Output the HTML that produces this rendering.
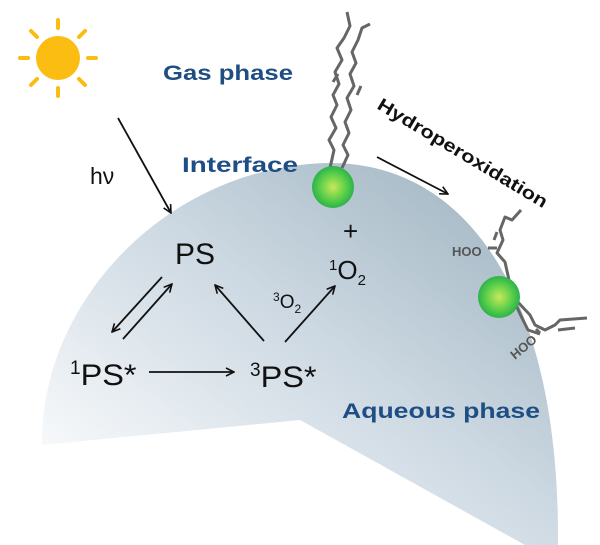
<!DOCTYPE html>
<html><head><meta charset="utf-8"><style>
body{margin:0;background:#fff;}
svg{display:block;font-family:"Liberation Sans","DejaVu Sans",sans-serif;}
</style></head><body>
<svg width="600" height="545" viewBox="0 0 600 545" xmlns="http://www.w3.org/2000/svg">
<defs>
<linearGradient id="bg" x1="1" y1="0.1" x2="0.1" y2="1">
<stop offset="0" stop-color="#9fb4c0"/>
<stop offset="0.45" stop-color="#ccd8e2"/>
<stop offset="1" stop-color="#ffffff"/>
</linearGradient>
<radialGradient id="ball" cx="0.5" cy="0.5" r="0.5">
<stop offset="0" stop-color="#c8e85a"/>
<stop offset="0.6" stop-color="#5fd04a"/>
<stop offset="1" stop-color="#2bb34a"/>
</radialGradient>
<marker id="ah" markerWidth="10" markerHeight="10" refX="9" refY="5" orient="auto" markerUnits="userSpaceOnUse">
<path d="M1,1 L9,5 L1,9" fill="none" stroke="#111" stroke-width="1.6"/>
</marker>
</defs>
<path d="M42,445 C40,300 170,165 330,163 C470,163 560,300 558,545 L525,545 L300,420 Z" fill="url(#bg)"/>
<circle cx="58" cy="58" r="22" fill="#fbbd12"/>
<g stroke="#fbbd12" stroke-width="4" stroke-linecap="round">
<line x1="58" y1="20" x2="58" y2="28"/><line x1="58" y1="88" x2="58" y2="96"/>
<line x1="20" y1="58" x2="28" y2="58"/><line x1="88" y1="58" x2="96" y2="58"/>
<line x1="31" y1="31" x2="37" y2="37"/><line x1="79" y1="79" x2="85" y2="85"/>
<line x1="85" y1="31" x2="79" y2="37"/><line x1="31" y1="85" x2="37" y2="79"/>
</g>
<g fill="#1f4e84" font-weight="bold" font-size="21">
<text x="163" y="80" textLength="130" lengthAdjust="spacingAndGlyphs">Gas phase</text>
<text x="182" y="172" textLength="116" lengthAdjust="spacingAndGlyphs">Interface</text>
<text x="342" y="418" textLength="198" lengthAdjust="spacingAndGlyphs">Aqueous phase</text>
</g>
<text x="90" y="184" font-size="23" fill="#111">hν</text>
<g fill="#111" font-size="30">
<text x="175" y="264" textLength="40" lengthAdjust="spacingAndGlyphs">PS</text>
<text x="70" y="385"><tspan font-size="19" dy="-11">1</tspan><tspan dy="11" textLength="56" lengthAdjust="spacingAndGlyphs">PS*</tspan></text>
<text x="250" y="387"><tspan font-size="19" dy="-11">3</tspan><tspan dy="11" textLength="56" lengthAdjust="spacingAndGlyphs">PS*</tspan></text>
</g>
<text x="273" y="308" font-size="19" fill="#111"><tspan font-size="12" dy="-7">3</tspan><tspan dy="7">O</tspan><tspan font-size="12" dy="5">2</tspan></text>
<text x="343" y="240" font-size="26" fill="#111">+</text>
<text x="329" y="279" font-size="26" fill="#111"><tspan font-size="15" dy="-9">1</tspan><tspan dy="9">O</tspan><tspan font-size="15" dy="6">2</tspan></text>
<g stroke="#111" stroke-width="1.8" fill="none" marker-end="url(#ah)">
<line x1="118" y1="118" x2="171" y2="213"/>
<line x1="162" y1="277" x2="112" y2="332"/>
<line x1="123" y1="339" x2="172" y2="284"/>
<line x1="264" y1="341" x2="215" y2="285"/>
<line x1="285" y1="342" x2="335" y2="286"/>
<line x1="149" y1="372" x2="234" y2="372"/>
<line x1="377" y1="157" x2="448" y2="194"/>
</g>
<text transform="translate(376,108) rotate(31)" font-size="18" font-weight="bold" fill="#111" textLength="195" lengthAdjust="spacingAndGlyphs">Hydroperoxidation</text>
<g stroke="#666" stroke-width="3" fill="none" stroke-linejoin="round">
<polyline points="330,168 334,150 329,140 336,128 331,117 337,105 333,95 339,84 335,72 342,60 337,48 344,38 350,26 347,12"/>
<polyline points="342,168 348,155 343,145 349,133 345,122 351,110 347,98 354,86 350,74 356,63 352,52 358,40 362,28 370,24"/>
<line x1="333" y1="82" x2="338" y2="74"/>
<line x1="357" y1="95" x2="361" y2="86"/>
<polyline points="521,210 512,220 505,217 500,230 503,240 497,253 505,262 509,280 516,300 530,315 535,325 545,330 555,325 560,320 587,318"/>
<polyline points="503,292 516,305 522,318 528,330 540,334"/>
<line x1="497" y1="232" x2="494" y2="240"/>
<line x1="558" y1="330" x2="575" y2="328"/>
<line x1="488" y1="248" x2="497" y2="248"/>
<line x1="536" y1="329" x2="540" y2="333"/>
</g>
<text x="452" y="256" font-size="13" font-weight="bold" fill="#555">HOO</text>
<text transform="translate(515,360) rotate(-40)" font-size="13" font-weight="bold" fill="#555">HOO</text>
<circle cx="333" cy="187" r="21" fill="url(#ball)"/>
<circle cx="499" cy="297" r="21" fill="url(#ball)"/>
</svg>
</body></html>
